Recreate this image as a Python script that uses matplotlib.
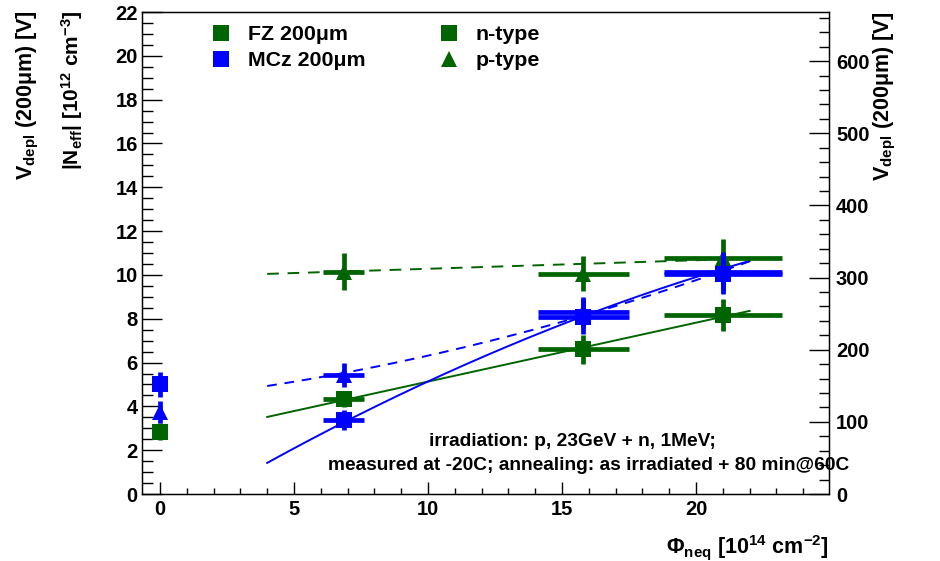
import numpy as np
import matplotlib
matplotlib.use("Agg")
import matplotlib.pyplot as plt
from matplotlib.ticker import MultipleLocator
from matplotlib.lines import Line2D

plt.rcParams['font.family'] = ['Liberation Sans', 'DejaVu Sans']
plt.rcParams['font.weight'] = 'bold'
plt.rcParams['mathtext.fontset'] = 'custom'
plt.rcParams['mathtext.rm'] = 'Liberation Sans:bold'
plt.rcParams['mathtext.it'] = 'Liberation Sans:bold'
plt.rcParams['mathtext.bf'] = 'Liberation Sans:bold'
plt.rcParams['mathtext.sf'] = 'Liberation Sans:bold'

GREEN = '#006400'
BLUE = '#0000ff'

# Fluence [1e14 neq/cm^2] and |Neff| [1e12 cm^-3]
phi_fz_n = [0.0, 6.85, 15.8, 21.0]
phi_fz_n_err = [0.0, 0.75, 1.7, 2.2]
neff_fz_n = [2.85, 4.34, 6.60, 8.17]
neff_fz_n_err = [0.40, 0.35, 0.65, 0.75]

phi_fz_p = [6.85, 15.8, 21.0]
phi_fz_p_err = [0.75, 1.7, 2.2]
neff_fz_p = [10.15, 10.05, 10.78]
neff_fz_p_err = [0.85, 0.80, 0.85]

phi_mcz_n = [0.0, 6.85, 15.8, 21.0]
phi_mcz_n_err = [0.0, 0.75, 1.7, 2.2]
neff_mcz_n = [5.00, 3.38, 8.10, 10.05]
neff_mcz_n_err = [0.55, 0.45, 0.80, 0.90]

phi_mcz_p = [0.0, 6.85, 15.8, 21.0]
phi_mcz_p_err = [0.0, 0.75, 1.7, 2.2]
neff_mcz_p = [3.75, 5.42, 8.30, 10.15]
neff_mcz_p_err = [0.50, 0.55, 0.70, 0.90]

# Polynomial fit coefficients (c0, c1, c2) over the irradiated range
fit_range = (4.0, 22.0)
fit_fz_n = [2.44, 0.269, 0.0]
fit_fz_p = [9.89, 0.039, 0.0]
fit_mcz_n = [-1.416, 0.7447, -0.00894]
fit_mcz_p = [4.29, 0.1315, 0.0071]

# |Neff| -> full depletion voltage for a 200 um thick sensor
NEFF_TO_VDEPL = 30.37

W, H = 940, 561
fig = plt.figure(figsize=(W / 100, H / 100), dpi=100)
x0, x1, y0, y1 = 142, 829, 12, 494
ax = fig.add_axes([x0 / W, 1 - y1 / H, (x1 - x0) / W, (y1 - y0) / H])

ax.set_xlim(-0.67, 24.96)
ax.set_ylim(0, 22)

# fit curves
phi_fit = np.linspace(fit_range[0], fit_range[1], 200)
def poly(c, x):
    return c[0] + c[1] * x + c[2] * x ** 2

ax.plot(phi_fit, poly(fit_fz_n, phi_fit), color=GREEN, lw=1.4, zorder=2)
ax.plot(phi_fit, poly(fit_fz_p, phi_fit), color=GREEN, lw=1.4, ls=(0, (6, 4.5)), zorder=2)
ax.plot(phi_fit, poly(fit_mcz_n, phi_fit), color=BLUE, lw=1.4, zorder=2)
ax.plot(phi_fit, poly(fit_mcz_p, phi_fit), color=BLUE, lw=1.4, ls=(0, (5, 4)), zorder=2)

ekw = dict(capsize=0, elinewidth=3.4, ms=12, mew=0, ls='none')
ax.errorbar(phi_fz_n, neff_fz_n, xerr=phi_fz_n_err, yerr=neff_fz_n_err,
            fmt='s', color=GREEN, zorder=3, **ekw)
ax.errorbar(phi_fz_p, neff_fz_p, xerr=phi_fz_p_err, yerr=neff_fz_p_err,
            fmt='^', color=GREEN, zorder=4, **ekw)
ax.errorbar(phi_mcz_p, neff_mcz_p, xerr=phi_mcz_p_err, yerr=neff_mcz_p_err,
            fmt='^', color=BLUE, zorder=5, **ekw)
ax.errorbar(phi_mcz_n, neff_mcz_n, xerr=phi_mcz_n_err, yerr=neff_mcz_n_err,
            fmt='s', color=BLUE, zorder=6, **ekw)

# axes styling
TICK_FS = 14.5
ax.xaxis.set_major_locator(MultipleLocator(5))
ax.xaxis.set_minor_locator(MultipleLocator(1))
ax.yaxis.set_major_locator(MultipleLocator(2))
ax.yaxis.set_minor_locator(MultipleLocator(0.5))
ax.tick_params(axis='x', which='major', direction='in', length=8.6, width=1,
               top=False, labelsize=TICK_FS, pad=4.5)
ax.tick_params(axis='x', which='minor', direction='in', length=4.3, width=1, top=False)
ax.tick_params(axis='y', which='major', direction='in', length=14.4, width=1,
               right=False, labelsize=TICK_FS, pad=3)
ax.tick_params(axis='y', which='minor', direction='in', length=8, width=1, right=False)
for sp in ax.spines.values():
    sp.set_linewidth(1.0)

ax2 = ax.twinx()
ax2.set_ylim(0, 22 * NEFF_TO_VDEPL)
ax2.yaxis.set_major_locator(MultipleLocator(100))
ax2.yaxis.set_minor_locator(MultipleLocator(20))
ax2.tick_params(axis='y', which='major', direction='in', length=14.4, width=1,
                labelsize=TICK_FS, pad=5)
ax2.tick_params(axis='y', which='minor', direction='in', length=7, width=1)

# axis titles
TITLE_FS = 15.5
fig.text(28 / W, 1 - 10 / H, r'V$_{\rm depl}$ (200μm) [V]', rotation=90,
         ha='center', va='top', fontsize=TITLE_FS)
fig.text(72 / W, 1 - 10 / H, r'|N$_{\rm eff}$| [10$^{12}$ cm$^{-3}$]', rotation=90,
         ha='center', va='top', fontsize=15)
fig.text(885 / W, 1 - 11 / H, r'V$_{\rm depl}$ (200μm) [V]', rotation=90,
         ha='center', va='top', fontsize=TITLE_FS)
fig.text(829 / W, 1 - 548 / H, r'Φ$_{\rm neq}$ [10$^{14}$ cm$^{-2}$]',
         ha='right', va='center', fontsize=TITLE_FS)

# irradiation conditions
fig.text(572 / W, 1 - 441 / H, 'irradiation: p, 23GeV + n, 1MeV;',
         ha='center', va='center', fontsize=13.8)
fig.text(589 / W, 1 - 466 / H,
         'measured at -20C; annealing: as irradiated + 80 min@60C',
         ha='center', va='center', fontsize=13.8)

# legends: material and doping type
h_fz = Line2D([], [], marker='s', color=GREEN, ls='none', ms=12, mew=0)
h_mcz = Line2D([], [], marker='s', color=BLUE, ls='none', ms=12, mew=0)
h_n = Line2D([], [], marker='s', color=GREEN, ls='none', ms=12, mew=0)
h_p = Line2D([], [], marker='^', color=GREEN, ls='none', ms=12, mew=0)
lkw = dict(loc='upper left', frameon=False, borderpad=0, borderaxespad=0,
           handlelength=1.1, handletextpad=0.72, labelspacing=0.35,
           prop={'size': 15.4, 'weight': 'bold'})
leg1 = fig.legend([h_fz, h_mcz], ['FZ 200μm', 'MCz 200μm'],
                  bbox_to_anchor=(209 / W, 1 - 25 / H), **lkw)
leg2 = fig.legend([h_n, h_p], ['n-type', 'p-type'],
                  bbox_to_anchor=(437 / W, 1 - 25 / H), **lkw)

fig.savefig('out.png', dpi=100)
